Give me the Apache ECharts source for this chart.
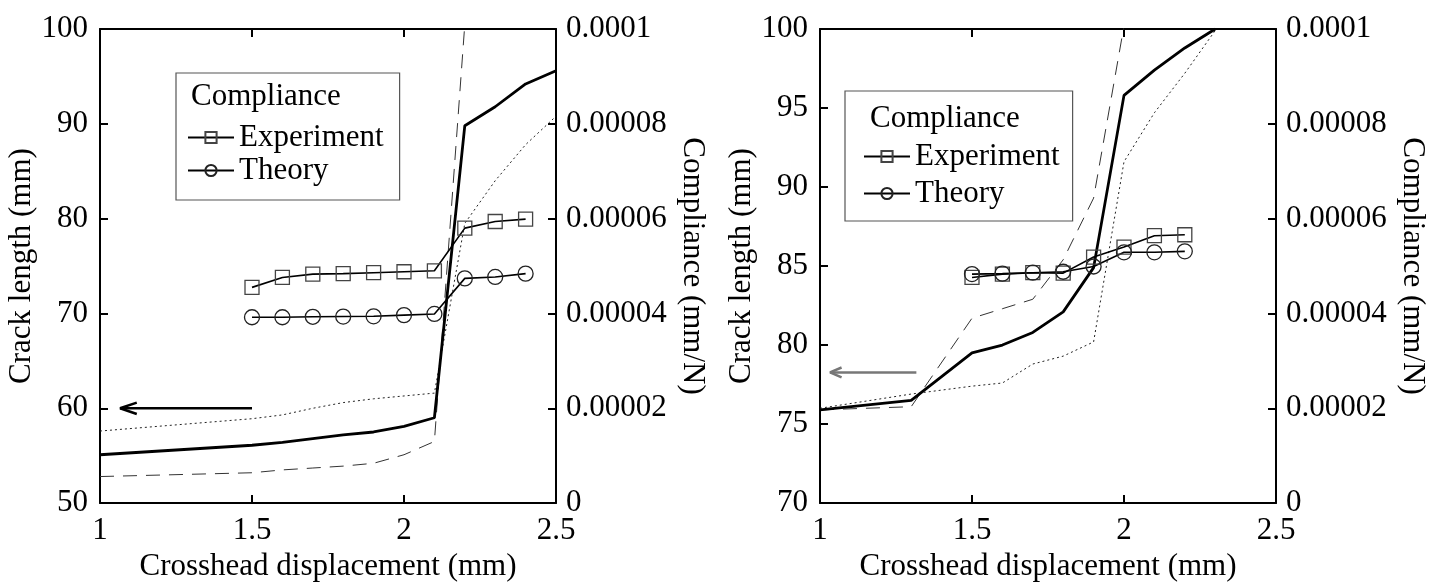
<!DOCTYPE html>
<html style="height: 100%">

<head>
    <meta charset="utf-8">
</head>

<body style="height: 100%; margin: 0; background: #fff">
    <div id="container" style="width: 1437px; height: 587px"></div>
    <script type="text/javascript" src="https://cdn.jsdelivr.net/npm/echarts@6/dist/echarts.min.js"></script>

    <script type="text/javascript">
        // ---- data ----
        // left panel, crack length (mm) vs crosshead displacement (mm)
        var leftCrackX = [1.0, 1.5, 1.6, 1.7, 1.8, 1.9, 2.0, 2.1, 2.2, 2.3, 2.4, 2.5];
        var leftSolid = [55.1, 56.1, 56.4, 56.8, 57.2, 57.5, 58.1, 59.0, 89.8, 91.8, 94.2, 95.6];
        var leftDotted = [57.6, 58.9, 59.3, 60.0, 60.6, 61.0, 61.3, 61.6, 79.5, 84.0, 87.8, 90.8];
        var leftDashedX = [1.0, 1.5, 1.6, 1.7, 1.8, 1.9, 2.0, 2.1, 2.2];
        var leftDashed = [52.8, 53.2, 53.5, 53.7, 53.9, 54.2, 55.1, 56.5, 100.5];
        // left panel, compliance (mm/N)
        var leftCompX = [1.5, 1.6, 1.7, 1.8, 1.9, 2.0, 2.1, 2.2, 2.3, 2.4];
        var leftExperiment = [4.55e-5, 4.76e-5, 4.83e-5, 4.84e-5, 4.86e-5, 4.88e-5, 4.90e-5, 5.80e-5, 5.94e-5, 5.99e-5];
        var leftTheory = [3.92e-5, 3.92e-5, 3.93e-5, 3.935e-5, 3.94e-5, 3.965e-5, 3.99e-5, 4.74e-5, 4.77e-5, 4.84e-5];

        // right panel
        var rightCrackX = [1.0, 1.3, 1.5, 1.6, 1.7, 1.8, 1.9, 2.0, 2.1, 2.2, 2.3];
        var rightSolid = [75.9, 76.5, 79.5, 80.0, 80.8, 82.1, 84.9, 95.8, 97.4, 98.8, 100.0];
        var rightDotted = [76.0, 76.9, 77.4, 77.6, 78.8, 79.3, 80.2, 91.6, 94.7, 97.2, 99.9];
        var rightDashedX = [1.0, 1.3, 1.5, 1.6, 1.7, 1.8, 1.9, 2.0];
        var rightDashed = [75.9, 76.1, 81.7, 82.3, 82.9, 85.4, 89.3, 100.2];
        var rightCompX = [1.5, 1.6, 1.7, 1.8, 1.9, 2.0, 2.1, 2.2];
        var rightExperiment = [4.76e-5, 4.83e-5, 4.86e-5, 4.85e-5, 5.19e-5, 5.40e-5, 5.64e-5, 5.66e-5];
        var rightTheory = [4.83e-5, 4.84e-5, 4.86e-5, 4.88e-5, 4.99e-5, 5.29e-5, 5.29e-5, 5.31e-5];

        // arrows pointing to the crack length axis (data coords)
        var leftArrowShaft = [[1.5, 60], [1.066, 60]];
        var leftArrowHead = [[1.121, 60.6], [1.066, 60], [1.121, 59.4]];
        var rightArrowShaft = [[1.317, 78.27], [1.033, 78.27]];
        var rightArrowHead = [[1.071, 78.58], [1.033, 78.27], [1.071, 77.96]];

        // axis ranges / tick labels
        var xTickLabels = ['1', '1.5', '2', '2.5'];
        var leftCrackRange = [50, 100, 10];
        var rightCrackRange = [70, 100, 5];
        var complianceRange = [0, 0.0001, 0.00002];

        var FONT = "'Liberation Serif', 'Times New Roman', serif";
        var txt = { fontFamily: FONT, fontSize: 31, color: '#000' };

        function pairs(xs, ys) {
            return xs.map(function (x, i) { return [x, ys[i]]; });
        }

        var frameLine = { show: true, onZero: false, lineStyle: { color: '#000', width: 2 } };
        var innerTick = { show: true, inside: true, length: 8, lineStyle: { color: '#000', width: 2 } };

        function xAxes(grid) {
            return [{
                type: 'value', gridIndex: grid, position: 'bottom',
                min: 1, max: 2.5, interval: 0.5,
                name: 'Crosshead displacement (mm)', nameLocation: 'middle', nameGap: 40,
                nameTextStyle: txt,
                axisLine: frameLine, axisTick: innerTick,
                axisLabel: Object.assign({ margin: 12, formatter: function (v) { return xTickLabels[Math.round((v - 1) / 0.5)]; } }, txt),
                splitLine: { show: false }
            }, {
                type: 'value', gridIndex: grid, position: 'top',
                min: 1, max: 2.5, interval: 0.5,
                axisLine: frameLine, axisTick: innerTick,
                axisLabel: { show: false }, splitLine: { show: false }
            }];
        }

        function yAxes(grid, crack) {
            return [{
                type: 'value', gridIndex: grid, position: 'left',
                min: crack[0], max: crack[1], interval: crack[2],
                name: 'Crack length (mm)', nameLocation: 'middle', nameRotate: 90, nameGap: 62,
                nameTextStyle: txt,
                axisLine: frameLine, axisTick: innerTick,
                axisLabel: Object.assign({ margin: 12 }, txt),
                splitLine: { show: false }
            }, {
                type: 'value', gridIndex: grid, position: 'right',
                min: complianceRange[0], max: complianceRange[1], interval: complianceRange[2],
                name: 'Compliance (mm/N)', nameLocation: 'middle', nameRotate: -90, nameGap: 121,
                nameTextStyle: txt,
                axisLine: frameLine, axisTick: innerTick,
                axisLabel: Object.assign({ margin: 10, formatter: function (v) { return String(+v.toFixed(6)); } }, txt),
                splitLine: { show: false }
            }];
        }

        function panelSeries(p, d) {
            var xi = p * 2, yi = p * 2;
            var plain = { type: 'line', xAxisIndex: xi, yAxisIndex: yi, showSymbol: false, symbol: 'none', silent: true };
            return [
                Object.assign({}, plain, { name: 'dashed' + p, data: pairs(d.dashedX, d.dashed), z: 2,
                    lineStyle: { color: '#333', width: 1, type: [14, 9] } }),
                Object.assign({}, plain, { name: 'dotted' + p, data: pairs(d.crackX, d.dotted), z: 2,
                    lineStyle: { color: '#222', width: 1, type: [2, 3] } }),
                Object.assign({}, plain, { name: 'solid' + p, data: pairs(d.crackX, d.solid), z: 3,
                    lineStyle: { color: '#000', width: 2.8 } }),
                Object.assign({}, plain, { name: 'arrow' + p, data: d.shaft, z: 3,
                    lineStyle: { color: d.arrowColor, width: 2.5 } }),
                Object.assign({}, plain, { name: 'arrowhead' + p, data: d.head, z: 3,
                    lineStyle: { color: d.arrowColor, width: 2.5 } }),
                {
                    name: 'Experiment', type: 'line', xAxisIndex: xi, yAxisIndex: yi + 1,
                    data: pairs(d.compX, d.exp), symbol: 'rect', symbolSize: 14, showSymbol: true, z: 4,
                    lineStyle: { color: '#000', width: 1.6 },
                    itemStyle: { color: 'rgba(0,0,0,0)', borderColor: '#444', borderWidth: 1.3 }
                },
                {
                    name: 'Theory', type: 'line', xAxisIndex: xi, yAxisIndex: yi + 1,
                    data: pairs(d.compX, d.theory), symbol: 'circle', symbolSize: 15, showSymbol: true, z: 4,
                    lineStyle: { color: '#000', width: 1.6 },
                    itemStyle: { color: 'rgba(0,0,0,0)', borderColor: '#222', borderWidth: 1.3 }
                }
            ];
        }

        function legendBox(left, top, pad, gap) {
            return {
                orient: 'vertical', left: left, top: top, padding: pad, itemGap: gap,
                itemWidth: 46, itemHeight: 14, selectedMode: false,
                borderColor: '#555', borderWidth: 1.2, backgroundColor: '#fff',
                data: ['Experiment', 'Theory'],
                textStyle: Object.assign({ lineHeight: 31 }, txt)
            };
        }

        var dom = document.getElementById("container");
        var myChart = echarts.init(dom, null, { renderer: 'canvas' });

        var option = {
            animation: false,
            backgroundColor: '#fff',
            grid: [
                { left: 100, top: 29, width: 456, height: 480 },
                { left: 820, top: 29, width: 456, height: 480 }
            ],
            title: [
                { text: 'Compliance', left: 191, top: 81, padding: 0, z: 10,
                  textStyle: Object.assign({ fontWeight: 'normal', lineHeight: 31 }, txt) },
                { text: 'Compliance', left: 870, top: 103, padding: 0, z: 10,
                  textStyle: Object.assign({ fontWeight: 'normal', lineHeight: 31 }, txt) }
            ],
            legend: [
                legendBox(176, 73, [49, 16, 14, 11], 2),
                legendBox(845, 91, [50, 13, 12, 18], 6)
            ],
            xAxis: xAxes(0).concat(xAxes(1)),
            yAxis: yAxes(0, leftCrackRange).concat(yAxes(1, rightCrackRange)),
            series: panelSeries(0, {
                crackX: leftCrackX, solid: leftSolid, dotted: leftDotted,
                dashedX: leftDashedX, dashed: leftDashed,
                compX: leftCompX, exp: leftExperiment, theory: leftTheory,
                shaft: leftArrowShaft, head: leftArrowHead, arrowColor: '#000'
            }).concat(panelSeries(1, {
                crackX: rightCrackX, solid: rightSolid, dotted: rightDotted,
                dashedX: rightDashedX, dashed: rightDashed,
                compX: rightCompX, exp: rightExperiment, theory: rightTheory,
                shaft: rightArrowShaft, head: rightArrowHead, arrowColor: '#777'
            }))
        };

        myChart.setOption(option);
    </script>
</body>

</html>
